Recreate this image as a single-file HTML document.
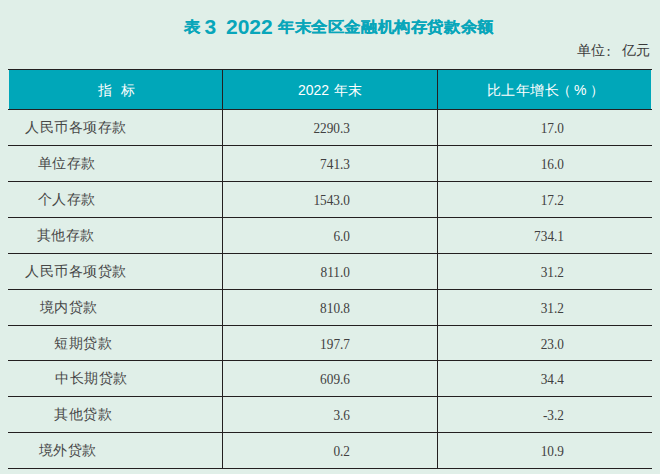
<!DOCTYPE html>
<html><head><meta charset="utf-8">
<style>
html,body{margin:0;padding:0;}
body{width:660px;height:474px;background:#e0efe8;position:relative;overflow:hidden;font-family:"Liberation Sans",sans-serif;}
.t{position:absolute;white-space:nowrap;line-height:1;}
.tc{color:#08a6ba;font-weight:bold;font-size:16px;letter-spacing:0.6px;top:20px;-webkit-text-stroke:0.25px #08a6ba;transform:scaleY(0.92);transform-origin:0 0;}
.td{color:#08a6ba;font-weight:bold;font-size:21px;top:15.5px;}
.unit{top:43px;color:#3a3a3a;font-size:14px;letter-spacing:0.9px;}
.hdr{position:absolute;left:9px;top:69px;width:642px;height:40px;background:#00a7b9;}
.hl{position:absolute;left:8px;width:644px;height:1px;background:#231f20;}
.vl{position:absolute;top:69px;height:399px;width:1px;background:#231f20;}
.h{color:#fff;font-size:14px;top:83px;}
.hc{letter-spacing:0.4px;}
.c1{color:#474747;font-size:14px;letter-spacing:0.5px;}
.n{color:#404040;font-family:"Liberation Serif",serif;font-size:13.3px;text-align:right;transform:scaleY(1.03);transform-origin:0 11px;}
</style></head><body>
<div class="t tc" style="left:184px">表</div>
<div class="t td" style="left:204.5px">3</div>
<div class="t td" style="left:226px">2022</div>
<div class="t tc" style="left:278px">年末全区金融机构存贷款余额</div>
<div class="t unit" style="left:576.5px">单位</div>
<div class="t unit" style="left:606.5px;font-family:'Liberation Serif',serif;font-size:15px;top:43.5px">:</div>
<div class="t unit" style="left:621.5px">亿元</div>
<div class="hdr"></div>
<div class="hl" style="top:69px"></div>
<div class="hl" style="top:109px"></div>
<div class="hl" style="top:145px"></div>
<div class="hl" style="top:181px"></div>
<div class="hl" style="top:217px"></div>
<div class="hl" style="top:253px"></div>
<div class="hl" style="top:289px"></div>
<div class="hl" style="top:325px"></div>
<div class="hl" style="top:360px"></div>
<div class="hl" style="top:396px"></div>
<div class="hl" style="top:432px"></div>
<div class="hl" style="top:468px"></div>
<div class="vl" style="left:222px"></div>
<div class="vl" style="left:437px"></div>
<div class="t h" style="left:97.5px">指</div>
<div class="t h" style="left:120.5px">标</div>
<div class="t h" style="left:298px">2022</div>
<div class="t h hc" style="left:334px">年末</div>
<div class="t h hc" style="left:487px">比上年增长</div>
<div class="t h" style="left:557px">（</div>
<div class="t h" style="left:574px">%</div>
<div class="t h" style="left:590px">）</div>

<div class="t c1" style="left:25px;top:120px">人民币各项存款</div>
<div class="t c1" style="left:37.5px;top:156px">单位存款</div>
<div class="t c1" style="left:37.5px;top:192px">个人存款</div>
<div class="t c1" style="left:36.5px;top:228px">其他存款</div>
<div class="t c1" style="left:25px;top:264px">人民币各项贷款</div>
<div class="t c1" style="left:39.5px;top:300px">境内贷款</div>
<div class="t c1" style="left:54px;top:336px">短期贷款</div>
<div class="t c1" style="left:55px;top:371px">中长期贷款</div>
<div class="t c1" style="left:54px;top:407px">其他贷款</div>
<div class="t c1" style="left:38.5px;top:443px">境外贷款</div>

<div class="t n" style="right:310px;top:122px">2290.3</div>
<div class="t n" style="right:310px;top:158px">741.3</div>
<div class="t n" style="right:310px;top:194px">1543.0</div>
<div class="t n" style="right:310px;top:230px">6.0</div>
<div class="t n" style="right:310px;top:266px">811.0</div>
<div class="t n" style="right:310px;top:302px">810.8</div>
<div class="t n" style="right:310px;top:338px">197.7</div>
<div class="t n" style="right:310px;top:373px">609.6</div>
<div class="t n" style="right:310px;top:409px">3.6</div>
<div class="t n" style="right:310px;top:445px">0.2</div>

<div class="t n" style="right:96px;top:122px">17.0</div>
<div class="t n" style="right:96px;top:158px">16.0</div>
<div class="t n" style="right:96px;top:194px">17.2</div>
<div class="t n" style="right:96px;top:230px">734.1</div>
<div class="t n" style="right:96px;top:266px">31.2</div>
<div class="t n" style="right:96px;top:302px">31.2</div>
<div class="t n" style="right:96px;top:338px">23.0</div>
<div class="t n" style="right:96px;top:373px">34.4</div>
<div class="t n" style="right:96px;top:409px">-3.2</div>
<div class="t n" style="right:96px;top:445px">10.9</div>
</body></html>
